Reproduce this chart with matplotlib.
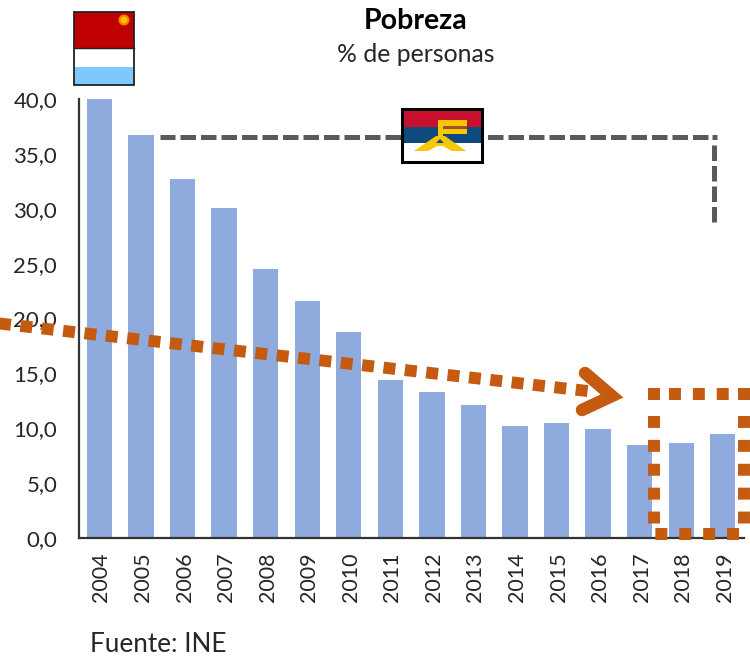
import matplotlib
matplotlib.use("Agg")
import matplotlib.pyplot as plt
from matplotlib.patches import Rectangle, Polygon, Circle
from matplotlib.transforms import ScaledTranslation

plt.rcParams["font.family"] = ["Lato", "DejaVu Sans"]

years = ["2004", "2005", "2006", "2007", "2008", "2009", "2010", "2011",
         "2012", "2013", "2014", "2015", "2016", "2017", "2018", "2019"]
pobreza = [40.0, 36.7, 32.7, 30.1, 24.5, 21.6, 18.8, 14.4,
           13.3, 12.1, 10.2, 10.5, 9.9, 8.5, 8.7, 9.5]
y_ticks = [0, 5, 10, 15, 20, 25, 30, 35, 40]
y_labels = ["0,0", "5,0", "10,0", "15,0", "20,0", "25,0", "30,0", "35,0", "40,0"]

W, H = 750, 656
fig = plt.figure(figsize=(W / 100, H / 100), dpi=100)

# Bar chart, placed by pixels
left, right, top, bottom = 78.7, 743.5, 99, 538
ax = fig.add_axes([left / W, 1 - bottom / H, (right - left) / W, (bottom - top) / H])
ax.bar(range(len(years)), pobreza, width=0.61, color="#8FAADC")
ax.set_xlim(-0.5, len(years) - 0.5)
ax.set_ylim(0, 40)
ax.set_yticks(y_ticks)
ax.set_yticklabels(y_labels, fontsize=16, color="#262626")
ax.set_xticks(range(len(years)))
ax.set_xticklabels(years, rotation=90, fontsize=15.5, color="#262626")
ax.tick_params(axis="both", length=0)
ax.tick_params(axis="y", pad=15.5)
ax.tick_params(axis="x", pad=10.5)
# rotated labels sit a little left of the bar centres otherwise
shift = ScaledTranslation(2 / 100, 0, fig.dpi_scale_trans)
for lab in ax.get_xticklabels():
    lab.set_transform(lab.get_transform() + shift)
ax.spines["top"].set_visible(False)
ax.spines["right"].set_visible(False)
ax.spines["left"].set_color("#333333")
ax.spines["bottom"].set_color("#333333")
ax.spines["left"].set_linewidth(1.6)
ax.spines["bottom"].set_linewidth(1.6)

# Overlay in pixel coordinates for the drawn-on shapes
ov = fig.add_axes([0, 0, 1, 1])
ov.set_xlim(0, W)
ov.set_ylim(H, 0)
ov.axis("off")

# Titles
ov.text(416, 21, "Pobreza", ha="center", va="center", fontsize=20.5, fontweight="bold", color="black")
ov.text(416, 54, "% de personas", ha="center", va="center", fontsize=17.8, color="#262626")
ov.text(90, 645, "Fuente: INE", ha="left", va="center", fontsize=18.8, color="#262626")

# Grey dashed bracket
grey = dict(color="#595959", lw=3.6, linestyle=(0, (3.1, 1)), dash_capstyle="butt")
ov.plot([708, 160], [136.5, 136.5], **grey)
ov.plot([714, 714], [145, 222], **grey)
ov.plot([711.5, 716.5], [136.5, 136.5], color="#595959", lw=3.6, solid_capstyle="butt")

# Orange dotted trend and arrow head
orange = "#C55A11"
ov.plot([-5, 596], [323, 392], color=orange, lw=8.6, linestyle=(0, (1, 0.8)), dash_capstyle="butt")
ov.plot([585, 612, 582], [373, 396, 410], color=orange, lw=9,
        solid_capstyle="round", solid_joinstyle="miter")

# Orange dotted box, sides drawn one by one to keep the square positions
dots = dict(color=orange, lw=8.6, linestyle=(0, (1, 1)), dash_capstyle="butt")
ov.plot([669, 736], [394, 394], **dots)
ov.plot([654, 654], [416, 530], **dots)
ov.plot([744, 744], [416, 530], **dots)
ov.plot([739, 654], [534, 534], **dots)
ov.plot([648, 660], [394, 394], color=orange, lw=8.6, solid_capstyle="butt")
ov.plot([738, 750], [394, 394], color=orange, lw=8.6, solid_capstyle="butt")

# Flag 1
ov.add_patch(Rectangle((74, 12), 60, 36, fc="#C00000", ec="none"))
ov.add_patch(Rectangle((74, 48), 60, 19, fc="white", ec="none"))
ov.add_patch(Rectangle((74, 67), 60, 18, fc="#7CC8FF", ec="none"))
ov.add_patch(Circle((124, 20), 5.5, fc="#F08000", ec="none"))
ov.add_patch(Circle((124, 20), 3.5, fc="#FFC000", ec="none"))
ov.plot([74, 134], [48, 48], color="#222222", lw=1)
ov.add_patch(Rectangle((74, 12), 60, 73, fc="none", ec="#222222", lw=1.3))

# Flag 2
ov.add_patch(Rectangle((402, 109), 80, 53, fc="white", ec="none", zorder=3))
ov.add_patch(Rectangle((403, 110), 78, 17, fc="#C8102E", ec="none", zorder=3))
ov.add_patch(Rectangle((403, 127), 78, 16, fc="#0F4A7F", ec="none", zorder=3))
ov.add_patch(Polygon([[414, 151], [436, 136], [445, 136], [466, 151], [452, 151],
                      [443, 146], [437, 146], [428, 151]], fc="#F5C800", ec="none", zorder=4))
ov.add_patch(Polygon([[436, 143], [440, 139], [444, 143]], fc="#0F4A7F", ec="none", zorder=4))
ov.add_patch(Rectangle((438, 120), 5, 18, fc="#F5C800", ec="none", zorder=4))
ov.add_patch(Rectangle((438, 120), 29, 14, fc="#F5C800", ec="none", zorder=4))
ov.add_patch(Rectangle((443, 125.5), 24, 3, fc="#A0522D", ec="none", zorder=4))
ov.add_patch(Rectangle((401.5, 109), 80, 53, fc="none", ec="black", lw=2.2, zorder=5))

fig.savefig("out.png", dpi=100)
